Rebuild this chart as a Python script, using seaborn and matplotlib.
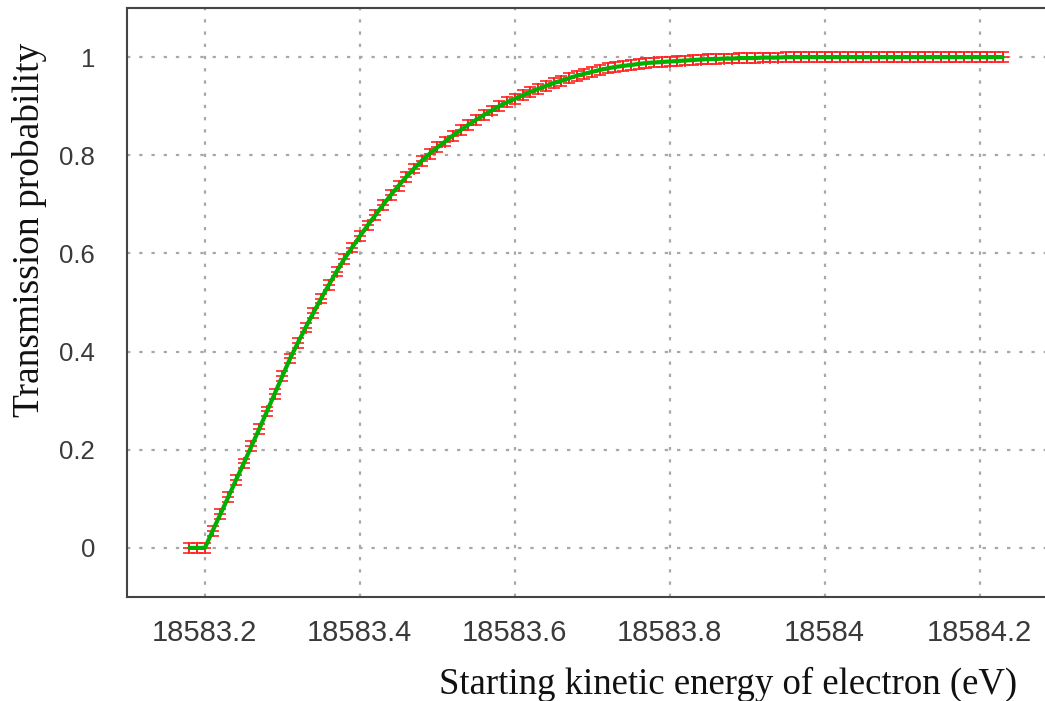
import numpy as np
import pandas as pd
import matplotlib
matplotlib.use("Agg")
import matplotlib.pyplot as plt
import seaborn as sns

# ---- data ----
energy_start = 18583.18
energy_step = 0.01
transmission = [
    0.000, 0.000,
    0.000, 0.035, 0.069, 0.103, 0.138, 0.172, 0.207, 0.242, 0.278, 0.314,
    0.350, 0.386, 0.418, 0.449, 0.479, 0.508, 0.536, 0.563, 0.589, 0.612,
    0.635, 0.657, 0.678, 0.699, 0.719, 0.738, 0.756, 0.773, 0.789, 0.803,
    0.816, 0.828, 0.840, 0.851, 0.862, 0.872, 0.882, 0.891, 0.900, 0.908,
    0.915, 0.922, 0.929, 0.935, 0.941, 0.947, 0.952, 0.957, 0.962, 0.966,
    0.970, 0.974, 0.977, 0.980, 0.982, 0.984, 0.986, 0.988, 0.989, 0.990,
    0.991, 0.992, 0.993, 0.994, 0.995, 0.996, 0.996, 0.997, 0.997, 0.998,
    0.998, 0.998, 0.999, 0.999, 0.999, 1.000, 1.000, 1.000, 1.000, 1.000,
    1.000, 1.000, 1.000, 1.000, 1.000, 1.000, 1.000, 1.000, 1.000, 1.000,
    1.000, 1.000, 1.000, 1.000, 1.000, 1.000, 1.000, 1.000, 1.000, 1.000,
    1.000, 1.000, 1.000, 1.000,
]
transmission_err = 0.01
energy = [round(energy_start + i * energy_step, 2) for i in range(len(transmission))]

x_ticks = [18583.2, 18583.4, 18583.6, 18583.8, 18584.0, 18584.2]
x_tick_labels = ["18583.2", "18583.4", "18583.6", "18583.8", "18584", "18584.2"]
y_ticks = [0, 0.2, 0.4, 0.6, 0.8, 1.0]
y_tick_labels = ["0", "0.2", "0.4", "0.6", "0.8", "1"]
x_label = "Starting kinetic energy of electron (eV)"
y_label = "Transmission probability"

df = pd.DataFrame({"energy": energy, "transmission": transmission})

# ---- figure ----
sns.set_style("white")
W, H = 1045, 701
fig = plt.figure(figsize=(W / 100, H / 100), dpi=100)
ax = fig.add_axes([127 / W, 1 - 597 / H, 930 / W, 589 / H])

ax.errorbar(df["energy"], df["transmission"], yerr=transmission_err,
            fmt="+", color="#ff2020", ecolor="#ff2020", elinewidth=1.5,
            capsize=4.0, capthick=1.5, markersize=9, markeredgewidth=1.3,
            alpha=0.9, zorder=3)
sns.lineplot(data=df, x="energy", y="transmission", ax=ax,
             color="#00b000", linewidth=3.0, zorder=4)

ax.set_xlim(18583.0994, 18584.3)
ax.set_ylim(-0.1, 1.1)
ax.set_xticks(x_ticks)
ax.set_xticklabels(x_tick_labels)
ax.set_yticks(y_ticks)
ax.set_yticklabels(y_tick_labels)

ax.grid(True, color="#a8a8a8", linestyle=(0, (1.5, 4)), linewidth=1.6)
ax.set_axisbelow(True)

for side in ["left", "bottom", "top", "right"]:
    ax.spines[side].set_visible(True)
    ax.spines[side].set_color("#444444")
    ax.spines[side].set_linewidth(1.5)

ax.tick_params(axis="both", direction="in", length=6, width=1.3,
               color="#333333", labelcolor="#3a3a3a",
               labelfontfamily="Liberation Sans")
ax.tick_params(axis="x", pad=16, labelsize=21)
ax.tick_params(axis="y", pad=23, labelsize=18.5)
ax.set_xlabel("")
ax.set_ylabel("")

fig.text(1017 / W, 1 - 684 / H, x_label, ha="right", va="center",
         fontsize=26.5, family="Liberation Serif", color="#111111")
fig.text(30 / W, 1 - 230 / H, y_label, ha="center", va="center",
         rotation=90, fontsize=27, family="Liberation Serif", color="#111111")

fig.savefig("out.png", dpi=100)
